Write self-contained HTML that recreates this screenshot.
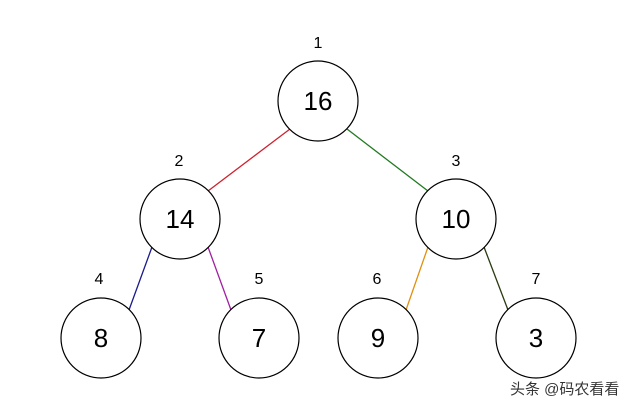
<!DOCTYPE html>
<html><head><meta charset="utf-8"><style>body{margin:0;background:#fff}svg{display:block}</style></head><body>
<svg width="640" height="407" xmlns="http://www.w3.org/2000/svg" font-family="Liberation Sans, sans-serif">
<rect width="640" height="407" fill="#fff"/>
<g stroke-width="1.3">
<line x1="290" y1="129" x2="208" y2="191" stroke="#d0202e"/>
<line x1="347" y1="129" x2="428" y2="191" stroke="#207a20"/>
<line x1="152" y1="247" x2="129" y2="310" stroke="#1a1a8c"/>
<line x1="208" y1="247" x2="231" y2="310" stroke="#a020a0"/>
<line x1="428" y1="247" x2="406" y2="310" stroke="#e09010"/>
<line x1="484" y1="247" x2="508" y2="310" stroke="#2a3a10"/>
</g>
<g fill="#fff" stroke="#000" stroke-width="1.2">
<circle cx="318" cy="101" r="40"/>
<circle cx="180" cy="219" r="40"/>
<circle cx="456" cy="219" r="40"/>
<circle cx="101" cy="338" r="40"/>
<circle cx="259" cy="338" r="40"/>
<circle cx="378" cy="338" r="40"/>
<circle cx="536" cy="338" r="40"/>
</g>
<g font-size="26" text-anchor="middle" fill="#000">
<text x="318" y="110">16</text>
<text x="180" y="228">14</text>
<text x="456" y="228">10</text>
<text x="101" y="347">8</text>
<text x="259" y="347">7</text>
<text x="378" y="347">9</text>
<text x="536" y="347">3</text>
</g>
<g font-size="16" text-anchor="middle" fill="#000">
<text x="318" y="48">1</text>
<text x="179" y="166">2</text>
<text x="456" y="166">3</text>
<text x="99" y="284">4</text>
<text x="259" y="284">5</text>
<text x="377" y="284">6</text>
<text x="536" y="284">7</text>
</g>
<text x="510" y="394" font-size="15" fill="#333" font-family="Liberation Sans, Noto Sans CJK SC, sans-serif">头条 @码农看看</text>
</svg>
</body></html>
